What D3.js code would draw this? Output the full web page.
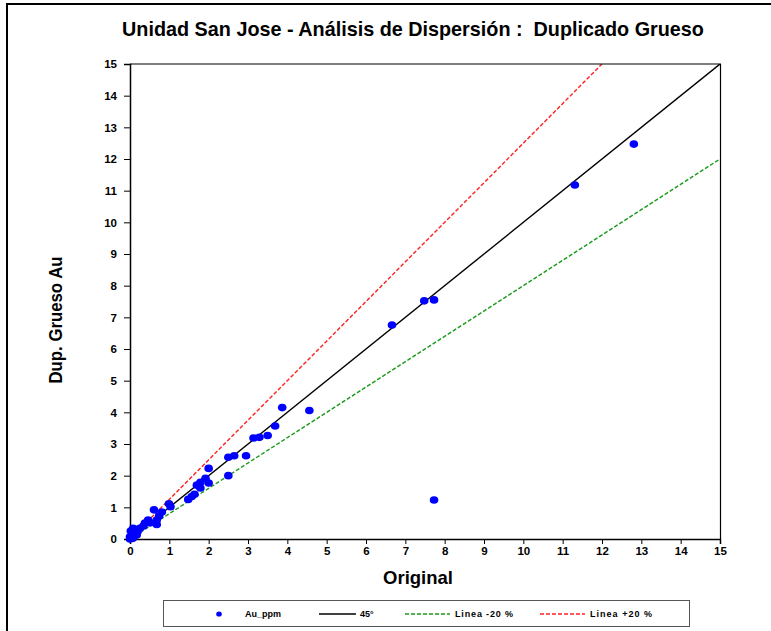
<!DOCTYPE html>
<html>
<head>
<meta charset="utf-8">
<script src="https://cdn.jsdelivr.net/npm/d3@7"></script>
<style>
  html, body { margin: 0; padding: 0; background: #fff; }
  svg { display: block; font-family: "Liberation Sans", Arial, sans-serif; }
</style>
</head>
<body>
<svg id="chart" width="771" height="631"></svg>
<script>
// Original assay vs coarse duplicate (Au ppm)
const original = [12.81, 11.31, 7.73, 7.48, 6.66, 7.73, 4.56, 3.87, 3.69, 3.50, 3.29, 3.14,
  2.95, 2.65, 2.50, 2.50, 2.00, 1.92, 2.00, 1.79, 1.70, 1.79, 1.64, 1.57, 1.48,
  0.99, 1.03, 0.61, 0.81, 0.74, 0.46, 0.51, 0.68, 0.68, 0.38, 0.34, 0.25, 0.08,
  0.13, 0.19, 0.08, 0.17, 0.00, 0.07, 0.00, 0.02];
const duplicate = [12.47, 11.18, 7.55, 7.52, 6.76, 1.23, 4.06, 4.15, 3.57, 3.27, 3.21, 3.19,
  2.63, 2.63, 2.58, 2.00, 2.23, 1.92, 1.77, 1.79, 1.70, 1.61, 1.41, 1.34, 1.25,
  1.11, 1.02, 0.92, 0.85, 0.73, 0.60, 0.51, 0.60, 0.46, 0.50, 0.41, 0.34, 0.34,
  0.26, 0.23, 0.18, 0.13, 0.07, 0.02, 0.00, 0.25];
const axisTicks = d3.range(0, 16);
// Reference lines: 1:1, duplicate 20% low, duplicate 20% high
const refLines = [
  { name: "45°",         slope: 1,      color: "#000000", dash: null,  textLen: null },
  { name: "Linea -20 %", slope: 0.8,    color: "#1a9a1a", dash: "4,2", textLen: 58 },
  { name: "Linea +20 %", slope: 1/0.8,  color: "#ff2020", dash: "4,2", textLen: 62 }
];

const svg = d3.select("#chart");
const x = d3.scaleLinear().domain([0, 15]).range([130, 720]);
const y = d3.scaleLinear().domain([0, 15]).range([539, 64]);

// outer figure border
svg.append("path")
  .attr("d", "M7,640 L7,4 L780,4")
  .attr("fill", "none").attr("stroke", "#000").attr("stroke-width", 2);

// title
svg.append("text")
  .attr("x", 413).attr("y", 36)
  .attr("text-anchor", "middle")
  .attr("font-size", 19.8).attr("font-weight", "bold")
  .attr("xml:space", "preserve")
  .text("Unidad San Jose - Análisis de Dispersión :  Duplicado Grueso");

svg.append("clipPath").attr("id", "plotclip")
  .append("rect").attr("x", 130).attr("y", 64).attr("width", 590).attr("height", 475);

// reference lines
const plot = svg.append("g").attr("clip-path", "url(#plotclip)");
refLines.forEach(r => {
  const xEnd = Math.min(15, 15 / r.slope);
  plot.append("line")
    .attr("x1", x(0)).attr("y1", y(0))
    .attr("x2", x(xEnd)).attr("y2", y(xEnd * r.slope))
    .attr("stroke", r.color).attr("stroke-width", 1.4)
    .attr("stroke-dasharray", r.dash);
});

// frame top and right
svg.append("line").attr("x1", 130).attr("x2", 721).attr("y1", 64).attr("y2", 64)
  .attr("stroke", "#000").attr("stroke-width", 1.2);
svg.append("line").attr("x1", 720.5).attr("x2", 720.5).attr("y1", 64).attr("y2", 539)
  .attr("stroke", "#000").attr("stroke-width", 1.2);

// axes
const xAxis = d3.axisBottom(x).tickValues(axisTicks).tickSize(5).tickPadding(3);
const yAxis = d3.axisLeft(y).tickValues(axisTicks).tickSize(6).tickPadding(7);
const gx = svg.append("g").attr("transform", `translate(0,${y(0)})`).call(xAxis);
const gy = svg.append("g").attr("transform", `translate(${x(0)},0)`).call(yAxis);
[gx, gy].forEach(g => {
  g.select(".domain").attr("stroke", "#000").attr("stroke-width", 1.5);
  g.selectAll(".tick line").attr("stroke", "#000");
  g.selectAll(".tick text").attr("font-size", 11.5).attr("font-weight", "bold")
    .attr("fill", "#000").attr("font-family", "Liberation Sans, Arial, sans-serif");
});

// points
svg.append("g").selectAll("ellipse")
  .data(original.map((v, i) => [v, duplicate[i]]))
  .join("ellipse")
  .attr("cx", d => x(d[0])).attr("cy", d => y(d[1]))
  .attr("rx", 4.3).attr("ry", 3.8)
  .attr("fill", "#0000ff");

// axis titles
svg.append("text")
  .attr("x", 418).attr("y", 584)
  .attr("text-anchor", "middle").attr("font-size", 18.5).attr("font-weight", "bold")
  .text("Original");
svg.append("text")
  .attr("transform", "translate(62,320) rotate(-90)")
  .attr("text-anchor", "middle").attr("font-size", 18).attr("font-weight", "bold")
  .attr("textLength", 127).attr("lengthAdjust", "spacingAndGlyphs")
  .text("Dup. Grueso Au");

// legend
const lg = svg.append("g");
lg.append("rect").attr("x", 163.5).attr("y", 600.5).attr("width", 526).attr("height", 26)
  .attr("fill", "#fff").attr("stroke", "#555").attr("stroke-width", 1);
const ly = 614;
lg.append("ellipse").attr("cx", 219).attr("cy", ly).attr("rx", 2.8).attr("ry", 2.6).attr("fill", "#0000ff");
lg.append("text").attr("x", 245).attr("y", ly + 3).attr("font-size", 9).attr("font-weight", "bold").text("Au_ppm");
const legendPos = [319, 405, 540];
refLines.forEach((r, i) => {
  lg.append("line").attr("x1", legendPos[i]).attr("x2", legendPos[i] + (i === 0 ? 37 : 45))
    .attr("y1", ly).attr("y2", ly)
    .attr("stroke", r.color).attr("stroke-width", 1.4).attr("stroke-dasharray", r.dash);
  const t = lg.append("text").attr("x", legendPos[i] + (i === 0 ? 41 : 50)).attr("y", ly + 3)
    .attr("font-size", 9).attr("font-weight", "bold").attr("xml:space", "preserve")
    .text(r.name);
  if (r.textLen) t.attr("textLength", r.textLen).attr("lengthAdjust", "spacing");
});
</script>
</body>
</html>
